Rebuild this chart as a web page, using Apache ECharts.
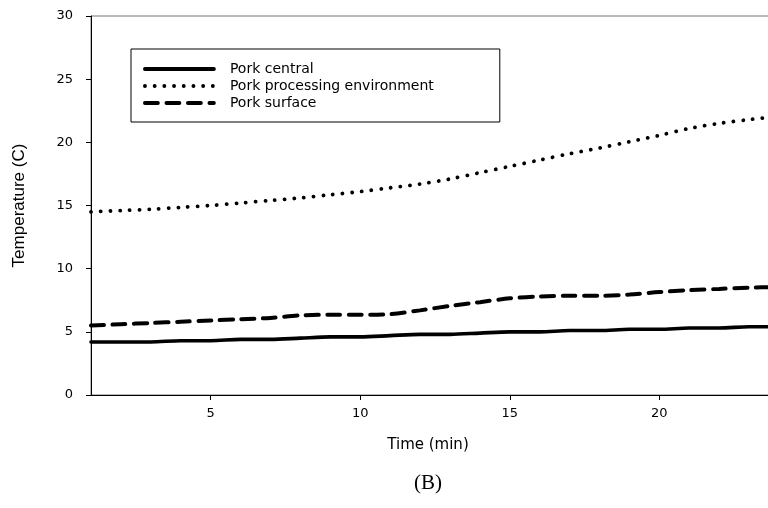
<!DOCTYPE html>
<html>
<head>
<meta charset="utf-8">
<script src="https://cdn.jsdelivr.net/npm/echarts@6/dist/echarts.min.js"></script>
<style>
  html, body { margin: 0; padding: 0; background: #fff; overflow: hidden; }
  /* the plot runs on past the right edge of the window */
  #chart { width: 780px; height: 508px; }
</style>
</head>
<body>
<div id="chart"></div>
<script>
// Time points (min)
const minutes = [1,2,3,4,5,6,7,8,9,10,11,12,13,14,15,16,17,18,19,20,21,22,23,24];
// Temperatures (C)
const porkCentral = [4.2,4.2,4.2,4.3,4.3,4.4,4.4,4.5,4.6,4.6,4.7,4.8,4.8,4.9,5.0,5.0,5.1,5.1,5.2,5.2,5.3,5.3,5.4,5.4];
const porkEnvironment = [14.5,14.6,14.7,14.85,15.0,15.2,15.4,15.6,15.85,16.1,16.4,16.7,17.1,17.6,18.1,18.6,19.1,19.55,20.05,20.55,21.1,21.5,21.8,22.05];
const porkSurface = [5.5,5.6,5.7,5.8,5.9,6.0,6.1,6.3,6.35,6.35,6.4,6.7,7.05,7.35,7.65,7.8,7.85,7.85,7.95,8.15,8.3,8.4,8.5,8.55];
const xTickValues = [5, 10, 15, 20];
const seriesNames = ['Pork central', 'Pork processing environment', 'Pork surface'];

const pairs = (ys) => minutes.map((m, i) => [m, ys[i]]);

const chart = echarts.init(document.getElementById('chart'), null, { renderer: 'canvas' });

const tickFont = { color: '#000', fontFamily: 'DejaVu Sans, sans-serif', fontSize: 13 };

chart.setOption({
  animation: false,
  backgroundColor: '#fff',
  grid: {
    left: 91, top: 16, bottom: 113, right: 1,
    show: true, borderColor: '#777', borderWidth: 1, backgroundColor: 'transparent'
  },
  legend: {
    orient: 'vertical',
    left: 131, top: 49,
    padding: [13, 66, 12, 12],
    itemGap: 3,
    itemWidth: 69,
    itemHeight: 14,
    borderColor: '#000',
    borderWidth: 1,
    borderRadius: 0,
    backgroundColor: '#fff',
    selectedMode: false,
    itemStyle: { opacity: 0 },
    lineStyle: { width: 3.8 },
    textStyle: {
      color: '#000',
      fontFamily: 'DejaVu Sans, sans-serif',
      fontSize: 14,
      padding: [0, 0, 0, 11]
    },
    data: seriesNames
  },
  xAxis: {
    type: 'value',
    min: 1, max: 24,
    name: 'Time (min)',
    nameLocation: 'middle',
    nameGap: 43,
    nameTextStyle: { color: '#000', fontFamily: 'DejaVu Sans, sans-serif', fontSize: 15, padding: [0, 14, 0, 0] },
    axisLine: { show: true, lineStyle: { color: '#000', width: 1 } },
    axisTick: { show: true, length: 5, inside: false, customValues: xTickValues, lineStyle: { color: '#000' } },
    axisLabel: { customValues: xTickValues, margin: 12, ...tickFont },
    splitLine: { show: false }
  },
  yAxis: {
    type: 'value',
    min: 0, max: 30, interval: 5,
    name: 'Temperature (C)',
    nameLocation: 'middle',
    nameGap: 63,
    nameTextStyle: { color: '#000', fontFamily: 'Liberation Sans, Arial, sans-serif', fontSize: 17 },
    axisLine: { show: true, lineStyle: { color: '#000', width: 1 } },
    axisTick: { show: true, length: 5, lineStyle: { color: '#000' } },
    axisLabel: { margin: 18, ...tickFont },
    splitLine: { show: false }
  },
  graphic: [{
    type: 'text',
    left: 414, top: 473,
    style: { text: '(B)', fill: '#000', font: '21px "Liberation Serif", "Times New Roman", serif' }
  }],
  series: [
    {
      name: seriesNames[0], type: 'line', data: pairs(porkCentral),
      smooth: 0.3, symbol: 'none',
      itemStyle: { color: '#000' },
      lineStyle: { color: '#000', width: 3.6, type: 'solid', cap: 'round' }
    },
    {
      name: seriesNames[1], type: 'line', data: pairs(porkEnvironment),
      smooth: 0.3, symbol: 'none',
      itemStyle: { color: '#000' },
      lineStyle: { color: '#000', width: 3.8, type: [0.1, 9.6], cap: 'round' }
    },
    {
      name: seriesNames[2], type: 'line', data: pairs(porkSurface),
      smooth: 0.3, symbol: 'none',
      itemStyle: { color: '#000' },
      lineStyle: { color: '#000', width: 4, type: [13, 8.5], cap: 'round' }
    }
  ]
});
</script>
</body>
</html>
